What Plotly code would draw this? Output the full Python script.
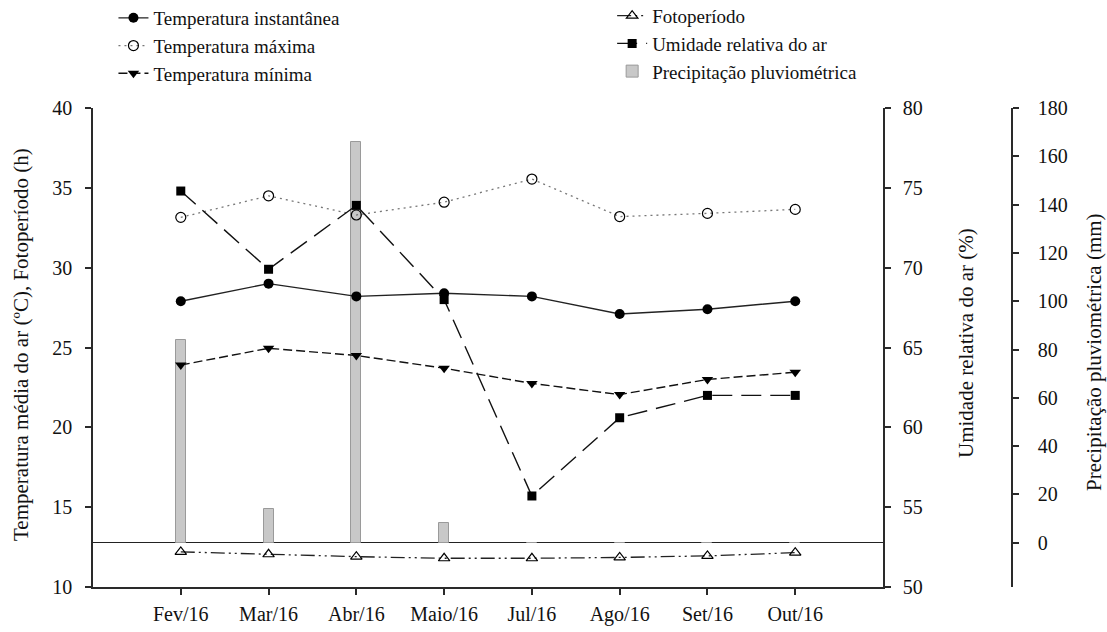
import plotly.graph_objects as go

months = ["Fev/16", "Mar/16", "Abr/16", "Maio/16", "Jul/16", "Ago/16", "Set/16", "Out/16"]
temp_inst = [27.9, 29.0, 28.2, 28.4, 28.2, 27.1, 27.4, 27.9]
temp_max = [33.15, 34.5, 33.3, 34.1, 35.55, 33.2, 33.4, 33.65]
temp_min = [23.9, 24.95, 24.5, 23.7, 22.75, 22.05, 23.0, 23.45]
fotoperiodo = [12.2, 12.05, 11.9, 11.8, 11.8, 11.85, 11.95, 12.15]
umidade = [74.8, 69.9, 73.9, 68.0, 55.7, 60.6, 62.0, 62.0]
precipitacao = [84, 14, 166, 8, 0, 0, 0, 0]

temp_ticks = [10, 15, 20, 25, 30, 35, 40]
umid_ticks = [50, 55, 60, 65, 70, 75, 80]
prec_ticks = [0, 20, 40, 60, 80, 100, 120, 140, 160, 180]

FONT = "Liberation Serif"
INK = "#111111"
AX = "#2a2a2a"

fig = go.Figure()

fig.add_trace(go.Scatter(
    x=months, y=temp_inst, yaxis="y2", name="Temperatura instantânea",
    mode="lines+markers", legend="legend",
    line=dict(color="#222222", width=1.4),
    marker=dict(symbol="circle", size=10, color="#000000"),
))
fig.add_trace(go.Scatter(
    x=months, y=temp_max, yaxis="y2", name="Temperatura máxima",
    mode="lines+markers", legend="legend",
    line=dict(color="#777777", width=1.3, dash="2px,4px"),
    marker=dict(symbol="circle-open", size=10, color="#000000", line=dict(width=1.2)),
))
fig.add_trace(go.Scatter(
    x=months, y=temp_min, yaxis="y2", name="Temperatura mínima",
    mode="lines+markers", legend="legend",
    line=dict(color="#111111", width=1.4, dash="9px,4px"),
    marker=dict(symbol="triangle-down", size=10, color="#000000"),
))
fig.add_trace(go.Scatter(
    x=months, y=fotoperiodo, yaxis="y2", name="Fotoperíodo",
    mode="lines+markers", legend="legend2",
    line=dict(color="#222222", width=1.3, dash="14px,4px,2px,4px,2px,4px"),
    marker=dict(symbol="triangle-up-open", size=10, color="#000000", line=dict(width=1.2)),
))
fig.add_trace(go.Scatter(
    x=months, y=umidade, yaxis="y3", name="Umidade relativa do ar",
    mode="lines+markers", legend="legend2",
    line=dict(color="#111111", width=1.4, dash="20px,9px"),
    marker=dict(symbol="square", size=9, color="#000000"),
))
fig.add_trace(go.Bar(
    x=months, y=precipitacao, yaxis="y", name="Precipitação pluviométrica",
    legend="legend2", width=0.114,
    marker=dict(color="#c8c8c8", line=dict(color="#9a9a9a", width=1)),
))

axis_common = dict(
    showline=True, linecolor=AX, linewidth=1.5, ticks="outside", ticklen=6,
    tickcolor=AX, tickwidth=1.5, showgrid=False, zeroline=False,
    tickfont=dict(family=FONT, size=20, color=INK),
)

fig.update_layout(
    width=1107, height=632,
    margin=dict(l=93, r=40, t=108, b=45, autoexpand=False),
    paper_bgcolor="white", plot_bgcolor="rgba(0,0,0,0)",
    font=dict(family=FONT, color=INK),
    showlegend=True,
    xaxis=dict(domain=[0, 0.8111], type="category", range=[-1, 8], anchor="y",
               ticklabelstandoff=2, **axis_common),
    yaxis=dict(range=[-18.3, 180], tickvals=prec_ticks, anchor="free",
               position=0.9435, side="right", ticklabelstandoff=15,
               **{**axis_common, "zeroline": True},
               zerolinecolor="#222222", zerolinewidth=1.2),
    yaxis2=dict(range=[10, 40], tickvals=temp_ticks, overlaying="y", side="left",
                anchor="x", ticklabelstandoff=9, **axis_common),
    yaxis3=dict(range=[50, 80], tickvals=umid_ticks, overlaying="y", side="right",
                anchor="x", ticklabelstandoff=8, **axis_common),
    legend=dict(x=0.021, y=1.2276, xanchor="left", yanchor="top",
                font=dict(family=FONT, size=19, color=INK),
                bgcolor="rgba(0,0,0,0)", traceorder="normal"),
    legend2=dict(x=0.533, y=1.232, xanchor="left", yanchor="top",
                 font=dict(family=FONT, size=19, color=INK),
                 bgcolor="rgba(0,0,0,0)", traceorder="normal"),
    bargap=0,
)

title_font = dict(family=FONT, size=21, color=INK)
fig.add_annotation(text="Temperatura média do ar (ºC), Fotoperíodo (h)",
                   xref="paper", yref="paper", x=(21 - 93) / 974, y=(587 - 345) / 479,
                   textangle=-90, showarrow=False, font=title_font,
                   xanchor="center", yanchor="middle")
fig.add_annotation(text="Umidade relativa do ar (%)",
                   xref="paper", yref="paper", x=(966 - 93) / 974, y=(587 - 343) / 479,
                   textangle=-90, showarrow=False, font=title_font,
                   xanchor="center", yanchor="middle")
fig.add_annotation(text="Precipitação pluviométrica (mm)",
                   xref="paper", yref="paper", x=(1094 - 93) / 974, y=(587 - 352) / 479,
                   textangle=-90, showarrow=False, font=title_font,
                   xanchor="center", yanchor="middle")

fig.write_html("out.html", config={"displayModeBar": False},
               post_script="document.body.style.margin='0';document.body.style.padding='0';")
